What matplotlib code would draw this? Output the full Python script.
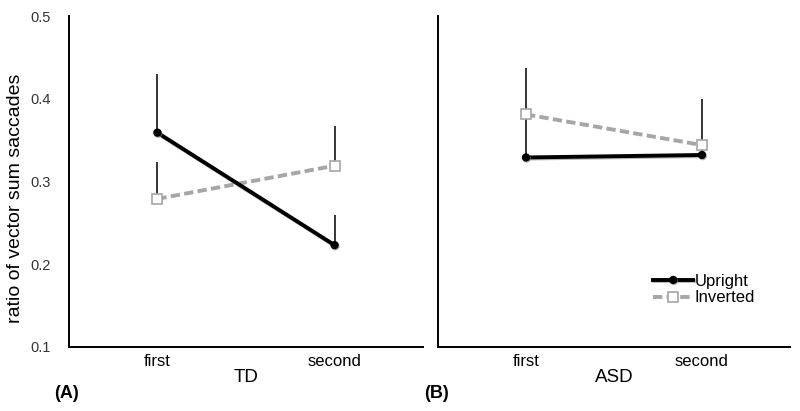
import matplotlib.pyplot as plt
import matplotlib.patheffects as pe

plt.rcParams['font.family'] = ['Liberation Sans', 'DejaVu Sans']

# data
positions = ['first', 'second']
groups = ['TD', 'ASD']
panel_tags = ['(A)', '(B)']

upright_td = [0.359, 0.223]
upright_td_err = [0.071, 0.037]
inverted_td = [0.279, 0.319]
inverted_td_err = [0.044, 0.048]

upright_asd = [0.329, 0.332]
upright_asd_err = [0.055, 0.010]
inverted_asd = [0.381, 0.344]
inverted_asd_err = [0.056, 0.056]

yticks = [0.1, 0.2, 0.3, 0.4, 0.5]

GREY = '#a6a6a6'

fig = plt.figure(figsize=(8, 4.11), dpi=100)
ax_a = fig.add_axes([0.086, 0.156, 0.443, 0.805])
ax_b = fig.add_axes([0.5475, 0.156, 0.44, 0.805])

panels = [
    (ax_a, upright_td, upright_td_err, inverted_td, inverted_td_err),
    (ax_b, upright_asd, upright_asd_err, inverted_asd, inverted_asd_err),
]

xs = [0, 1]
shadow = [pe.SimpleLineShadow(offset=(0.6, -0.8), shadow_color='#888888', alpha=0.6), pe.Normal()]

for i, (ax, up, up_err, inv, inv_err) in enumerate(panels):
    # error bars, upper side only
    ax.errorbar(xs, up, yerr=[[0, 0], up_err], fmt='none', ecolor='black', elinewidth=1.1, capsize=0, zorder=1)
    ax.errorbar(xs, inv, yerr=[[0, 0], inv_err], fmt='none', ecolor='black', elinewidth=1.1, capsize=0, zorder=1)

    ax.plot(xs, up, color='black', lw=2.8, marker='o', markersize=5,
            markerfacecolor='black', markeredgecolor='black', label='Upright',
            zorder=3, path_effects=shadow)
    ax.plot(xs, inv, color=GREY, lw=2.8, ls=(0, (2.4, 1.1)), marker='s', markersize=6.5,
            markerfacecolor='white', markeredgecolor=GREY, markeredgewidth=1.2,
            label='Inverted', zorder=2)

    ax.set_xlim(-0.5, 1.5)
    ax.set_ylim(0.1, 0.5)
    ax.set_xticks(xs)
    ax.set_xticklabels(positions, fontsize=12)
    ax.set_yticks(yticks)
    ax.tick_params(axis='both', length=0)
    ax.tick_params(axis='x', pad=5)
    ax.tick_params(axis='y', pad=13, labelsize=10.5, labelcolor='#333333')
    for side in ['top', 'right']:
        ax.spines[side].set_visible(False)
    for side in ['left', 'bottom']:
        ax.spines[side].set_linewidth(1.4)
    ax.set_xlabel(groups[i], fontsize=13.5, labelpad=0)
    ax.text(-0.04, -0.14, panel_tags[i], transform=ax.transAxes, fontsize=13,
            fontweight='bold', ha='left', va='center')

ax_a.set_ylabel('ratio of vector sum saccades', fontsize=14)
ax_a.yaxis.set_label_coords(-0.125, 0.45)
ax_b.set_yticklabels([])

ax_b.legend(loc='lower right', bbox_to_anchor=(0.925, 0.10), frameon=False, fontsize=12,
            handlelength=2.4, handletextpad=0.1, labelspacing=0.1, borderpad=0)

fig.savefig('out.png', dpi=100)
